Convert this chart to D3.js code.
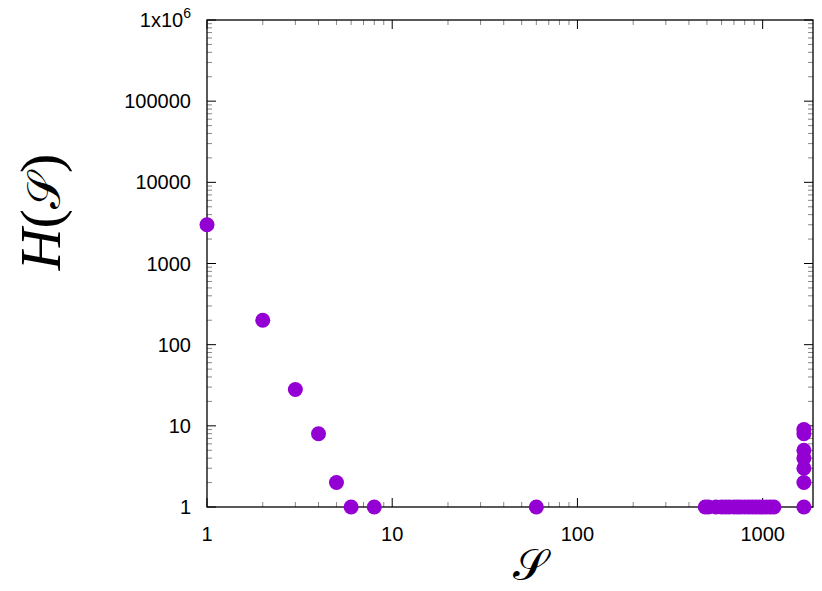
<!DOCTYPE html>
<html><head><meta charset="utf-8">
<script src="https://cdn.jsdelivr.net/npm/d3@7"></script>
<style>body{margin:0;background:#fff}text{font-family:"Liberation Sans",Arial,sans-serif}</style>
</head><body>
<script>
const sizes = [1, 2, 3, 4, 5, 6, 8, 60,
  490, 510, 560, 600, 630, 660, 700, 730, 760, 800, 840, 880, 920, 960, 1000, 1050, 1100, 1150,
  1670, 1670, 1670, 1670, 1670, 1670, 1670]
const counts = [3000, 200, 28, 8, 2, 1, 1, 1,
  1, 1, 1, 1, 1, 1, 1, 1, 1, 1, 1, 1, 1, 1, 1, 1, 1, 1,
  1, 2, 3, 4, 5, 8, 9]
const xTicks = [1, 10, 100, 1000]
const yTicks = [1, 10, 100, 1000, 10000, 100000, 1e6]

const W = 822, H = 591
const margin = {top: 20, right: 9, bottom: 84, left: 207}
const width = W - margin.left - margin.right, height = H - margin.top - margin.bottom

const svg = d3.select('body').append('svg').attr('width', W).attr('height', H)
const g = svg.append('g').attr('transform', `translate(${margin.left},${margin.top})`)

const x = d3.scaleLog().domain([1, 1870]).range([0, width])
const y = d3.scaleLog().domain([1, 1e6]).range([height, 0])

const minor = (dom) => {
  const out = []
  for (let p = 1; p <= dom[1]; p *= 10) for (let k = 2; k <= 9; k++) if (p * k <= dom[1]) out.push(p * k)
  return out
}
const xMinor = minor(x.domain()), yMinor = minor(y.domain())

const tk = g.append('g').attr('stroke', '#000').attr('stroke-width', 1)
xTicks.forEach(v => {
  tk.append('line').attr('x1', x(v)).attr('x2', x(v)).attr('y1', height).attr('y2', height - 9)
  tk.append('line').attr('x1', x(v)).attr('x2', x(v)).attr('y1', 0).attr('y2', 9)
})
xMinor.forEach(v => {
  tk.append('line').attr('x1', x(v)).attr('x2', x(v)).attr('y1', height).attr('y2', height - 5).attr('stroke', '#888')
  tk.append('line').attr('x1', x(v)).attr('x2', x(v)).attr('y1', 0).attr('y2', 5).attr('stroke', '#888')
})
yTicks.forEach(v => {
  tk.append('line').attr('y1', y(v)).attr('y2', y(v)).attr('x1', 0).attr('x2', 9)
  tk.append('line').attr('y1', y(v)).attr('y2', y(v)).attr('x1', width).attr('x2', width - 9)
})
yMinor.forEach(v => {
  tk.append('line').attr('y1', y(v)).attr('y2', y(v)).attr('x1', 0).attr('x2', 5).attr('stroke', '#888')
  tk.append('line').attr('y1', y(v)).attr('y2', y(v)).attr('x1', width).attr('x2', width - 5).attr('stroke', '#888')
})

g.append('rect').attr('width', width).attr('height', height).attr('fill', 'none').attr('stroke', '#000').attr('stroke-width', 1.3)

g.selectAll('.xl').data(xTicks).enter().append('text')
  .attr('x', d => x(d)).attr('y', height + 34).attr('text-anchor', 'middle').attr('font-size', 20).text(d => d)
g.selectAll('.yl').data(yTicks).enter().append('text')
  .attr('x', -16).attr('y', d => y(d) + 7).attr('text-anchor', 'end').attr('font-size', 20)
  .each(function (d) {
    const t = d3.select(this)
    if (d === 1e6) { t.text('1x10'); t.append('tspan').attr('font-size', 14).attr('dy', -9).text('6') }
    else t.text(d)
  })

g.selectAll('circle').data(sizes).enter().append('circle')
  .attr('cx', d => x(d)).attr('cy', (d, i) => y(counts[i])).attr('r', 7.5).attr('fill', '#9400d3')

svg.append('text').attr('x', 530).attr('y', 580).style('font-family', '"DejaVu Serif", serif')
  .attr('font-size', 44).attr('text-anchor', 'middle').text('𝒮')
svg.append('text').attr('transform', 'translate(60,212) rotate(-90)').attr('text-anchor', 'middle')
  .style('font-family', '"Liberation Serif", serif').attr('font-size', 58)
  .html('<tspan font-style="italic">H</tspan>(<tspan style="font-family:\'DejaVu Serif\'" font-size="46">𝒮</tspan>)')
</script>
</body></html>
